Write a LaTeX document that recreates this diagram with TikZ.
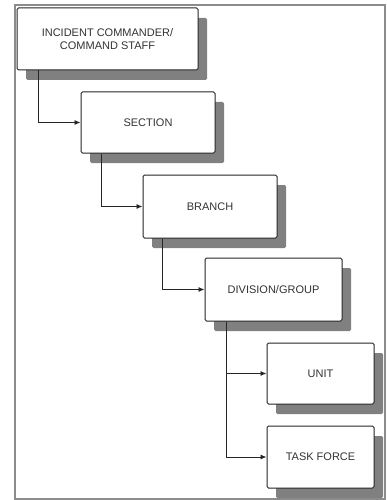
\documentclass[tikz,border=0pt]{standalone}
\usepackage{fontspec}
\setmainfont{Liberation Sans}
\usetikzlibrary{arrows.meta,shadows}

\begin{document}
\begin{tikzpicture}[
    x=1pt, y=-1pt,
    every node/.style={font=\fontsize{11}{13}\selectfont, text=black!80},
    level/.style={
        draw=black!85,
        line width=1pt,
        fill=white,
        rounded corners=1.5pt,
        align=center,
        inner sep=0pt,
        drop shadow={shadow xshift=9pt, shadow yshift=-10pt,
            fill=black!50, opacity=1}
    },
    arr/.style={-{Latex[length=6pt,width=5pt]}, line width=0.9pt, draw=black!85}
]

    % Frame
    \useasboundingbox (0,0) rectangle (387,500);
    \draw[black!45, line width=1.6pt] (15,5) rectangle (385,499);

    % Boxes
    \node[level, minimum width=181pt, minimum height=62pt]
        (ic) at (107.5,39) {INCIDENT COMMANDER/\\COMMAND STAFF};

    \node[level, minimum width=134pt, minimum height=61pt]
        (section) at (148,122.5) {SECTION};

    \node[level, minimum width=134pt, minimum height=63pt]
        (branch) at (210,206.5) {BRANCH};

    \node[level, minimum width=137pt, minimum height=63pt]
        (division) at (273.5,289.5) {DIVISION/GROUP};

    \node[level, minimum width=107pt, minimum height=61pt]
        (unit) at (320.5,373.5) {UNIT};

    \node[level, minimum width=107pt, minimum height=62pt]
        (taskforce) at (320.5,457) {TASK FORCE};

    % Arrows
    \draw[arr] ([xshift=22pt]ic.south west) |- (section.west);
    \draw[arr] ([xshift=21pt]section.south west) |- (branch.west);
    \draw[arr] ([xshift=20pt]branch.south west) |- (division.west);
    \draw[arr] ([xshift=22pt]division.south west) |- (unit.west);
    \draw[arr] ([xshift=22pt]division.south west) |- (taskforce.west);

\end{tikzpicture}
\end{document}
